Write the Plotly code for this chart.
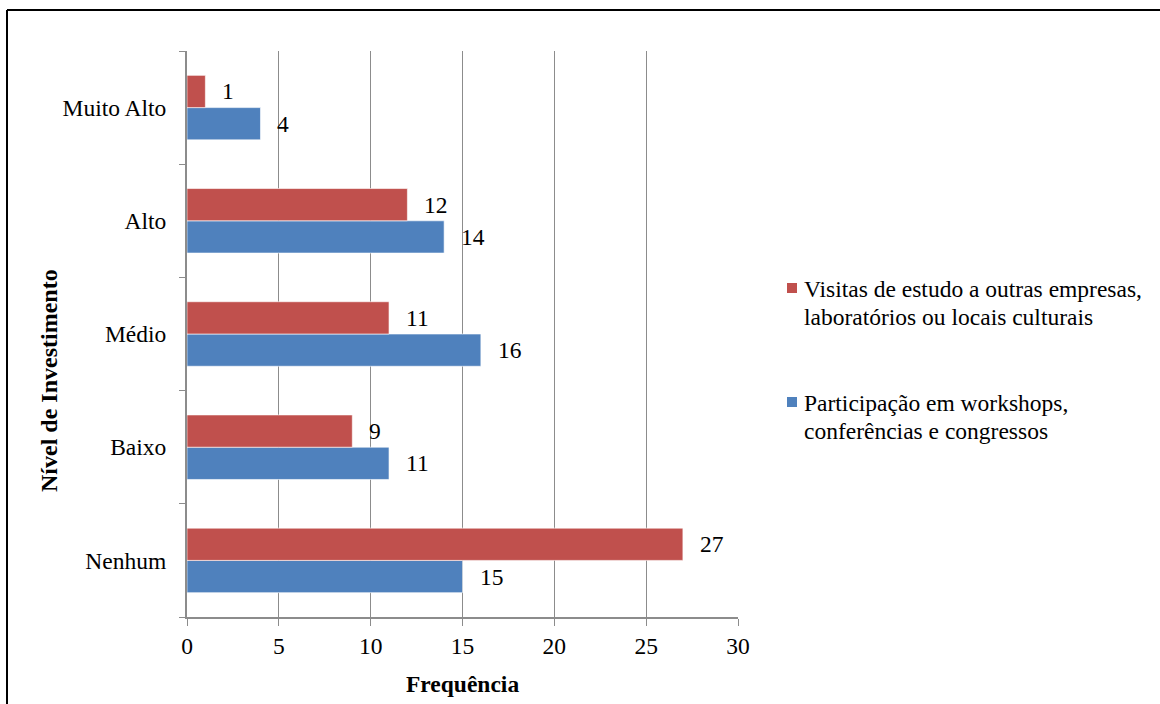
import plotly.graph_objects as go

# Investment level categories (bottom to top) and frequency counts
categorias = ["Nenhum", "Baixo", "Médio", "Alto", "Muito Alto"]
participacao = [15, 11, 16, 14, 4]   # workshops, conferências e congressos
visitas = [27, 9, 11, 12, 1]          # visitas de estudo

nome_participacao = ["Participação em workshops,", "conferências e congressos"]
nome_visitas = ["Visitas de estudo a outras empresas,", "laboratórios ou locais culturais"]

x_ticks = [0, 5, 10, 15, 20, 25, 30]

FONT = "Liberation Serif"
AZUL = "#4F81BD"
VERMELHO = "#C0504D"
CINZA = "#8C8C8C"
FS = 23.5

W, H = 1160, 704
M_L, M_R, M_T, M_B = 187, 422, 51, 87
BARGAP = 0.43
plot_w = W - M_L - M_R
plot_h = H - M_T - M_B


def px_x(px):
    return (px - M_L) / plot_w


def px_y(py):
    return (H - M_B - py) / plot_h


fig = go.Figure()
fig.add_trace(go.Bar(
    y=categorias, x=participacao, orientation="h", name=" ".join(nome_participacao),
    marker=dict(color=AZUL, line=dict(color="rgba(255,255,255,0.6)", width=1)),
    hoverinfo="x", showlegend=False,
))
fig.add_trace(go.Bar(
    y=categorias, x=visitas, orientation="h", name=" ".join(nome_visitas),
    marker=dict(color=VERMELHO, line=dict(color="rgba(255,255,255,0.6)", width=1)),
    hoverinfo="x", showlegend=False,
))

# Value labels placed just beyond the end of each bar
band = plot_h / len(categorias)
half_bar = band * (1 - BARGAP) / 4
annotations = []
for serie, desloc in ((participacao, -half_bar), (visitas, half_bar)):
    for cat, v in zip(categorias, serie):
        annotations.append(dict(
            x=v, y=cat, xref="x", yref="y", text=str(v), showarrow=False,
            xanchor="left", yanchor="middle", xshift=15, yshift=desloc,
            font=dict(family=FONT, size=FS, color="black"),
        ))

# Axis titles
annotations.append(dict(
    text="<b>Nível de Investimento</b>", textangle=-90, showarrow=False,
    xref="paper", yref="paper", x=px_x(49), y=px_y(381),
    xanchor="center", yanchor="middle",
    font=dict(family=FONT, size=24, color="black"),
))
annotations.append(dict(
    text="<b>Frequência</b>", showarrow=False,
    xref="paper", yref="paper", x=0.5, y=px_y(684),
    xanchor="center", yanchor="middle",
    font=dict(family=FONT, size=FS, color="black"),
))

# Legend: colour key squares with two-line labels
shapes = []
for linhas, cor, topo in ((nome_visitas, VERMELHO, 283), (nome_participacao, AZUL, 397)):
    shapes.append(dict(
        type="rect", xref="paper", yref="paper",
        x0=px_x(787), x1=px_x(797), y0=px_y(topo + 10), y1=px_y(topo),
        fillcolor=cor, line=dict(width=0),
    ))
    for i, linha in enumerate(linhas):
        annotations.append(dict(
            text=linha, showarrow=False, xref="paper", yref="paper",
            x=px_x(802), y=px_y(topo + 6 + 28 * i), xanchor="left", yanchor="middle",
            align="left", font=dict(family=FONT, size=FS, color="black"),
        ))

# Outer frame (top and left edges)
shapes += [
    dict(type="line", xref="paper", yref="paper",
         x0=px_x(7), x1=px_x(W + 10), y0=px_y(10), y1=px_y(10),
         line=dict(color="black", width=2)),
    dict(type="line", xref="paper", yref="paper",
         x0=px_x(7), x1=px_x(7), y0=px_y(10), y1=px_y(H + 10),
         line=dict(color="black", width=2)),
]

fig.update_layout(
    width=W, height=H,
    margin=dict(l=M_L, r=M_R, t=M_T, b=M_B, pad=0),
    paper_bgcolor="white", plot_bgcolor="white",
    barmode="group", bargap=BARGAP, bargroupgap=0,
    font=dict(family=FONT, size=FS, color="black"),
    showlegend=False,
    xaxis=dict(
        range=[0, 30], tickvals=x_ticks, ticktext=[str(t) for t in x_ticks],
        showgrid=True, gridcolor=CINZA, gridwidth=1,
        showline=True, linecolor=CINZA, linewidth=2,
        ticks="outside", ticklen=7, tickcolor=CINZA, tickwidth=1,
        zeroline=False, tickfont=dict(family=FONT, size=FS),
    ),
    yaxis=dict(
        type="category", categoryorder="array", categoryarray=categorias,
        range=[-0.5, len(categorias) - 0.5],
        showgrid=False, showline=True, linecolor=CINZA, linewidth=2,
        ticks="outside", ticklen=6, tickcolor=CINZA, tickwidth=1,
        tickson="boundaries", ticklabelstandoff=14,
        tickfont=dict(family=FONT, size=FS),
    ),
    annotations=annotations,
    shapes=shapes,
)

fig.write_html("out.html")
